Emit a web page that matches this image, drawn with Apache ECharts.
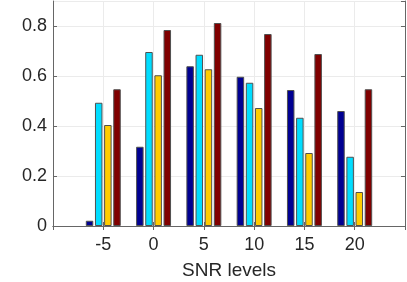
<!DOCTYPE html>
<html>
<head>
<meta charset="utf-8">
<script src="https://cdn.jsdelivr.net/npm/echarts@6/dist/echarts.min.js"></script>
<style>html,body{margin:0;padding:0;background:#fff;}#c{width:407px;height:282px;}</style>
</head>
<body>
<div id="c"></div>
<script>
var categories = ['-10', '-5', '0', '5', '10', '15', '20', '25'];
var series1 = [null, 0.021, 0.317, 0.639, 0.597, 0.544, 0.460, null];
var series2 = [null, 0.493, 0.696, 0.685, 0.573, 0.433, 0.277, null];
var series3 = [null, 0.404, 0.603, 0.627, 0.472, 0.292, 0.136, null];
var series4 = [null, 0.547, 0.784, 0.812, 0.768, 0.688, 0.547, null];
var yTicks = [0, 0.2, 0.4, 0.6, 0.8];
var colors = ['#000092', '#00DDFF', '#FFCC00', '#800000'];

var chart = echarts.init(document.getElementById('c'), null, {renderer: 'canvas'});
var axisCol = '#666666';
var txtCol = '#262626';
function mkBar(data, i) {
  return {
    type: 'bar', data: data, barWidth: 7.5, barGap: '22%',
    itemStyle: {color: colors[i], borderColor: '#505050', borderWidth: 1},
    xAxisIndex: 0, yAxisIndex: 0, animation: false
  };
}
chart.setOption({
  animation: false,
  grid: {left: 53, right: 2, top: 1, bottom: 56, containLabel: false, outerBoundsMode: 'none'},
  xAxis: [{
    type: 'category', data: categories, boundaryGap: false, position: 'bottom',
    axisLine: {show: true, lineStyle: {color: axisCol, width: 1}},
    axisTick: {show: true, inside: true, length: 4, lineStyle: {color: axisCol}},
    axisLabel: {color: txtCol, fontSize: 18, fontFamily: 'Liberation Sans, Arial', margin: 10,
      formatter: function (v) { return (v === '-10' || v === '25') ? '' : v; }},
    splitLine: {show: true, lineStyle: {color: '#ebebeb', width: 1}},
    name: 'SNR levels', nameLocation: 'middle', nameGap: 35,
    nameTextStyle: {color: txtCol, fontSize: 19, fontFamily: 'Liberation Sans, Arial'}
  }, {
    type: 'category', data: categories, boundaryGap: false, position: 'top',
    axisLine: {show: true, lineStyle: {color: axisCol, width: 1}},
    axisTick: {show: true, inside: true, length: 4, lineStyle: {color: axisCol}},
    axisLabel: {show: false}, splitLine: {show: false}
  }],
  yAxis: [{
    type: 'value', min: 0, max: 0.9, interval: 0.2, position: 'left',
    axisLine: {show: true, lineStyle: {color: axisCol, width: 1}},
    axisTick: {show: true, inside: true, length: 4, lineStyle: {color: axisCol}},
    axisLabel: {color: txtCol, fontSize: 18, fontFamily: 'Liberation Sans, Arial', margin: 6, showMaxLabel: false,
      formatter: function (v) { return yTicks.indexOf(Math.round(v * 10) / 10) >= 0 ? String(Math.round(v * 10) / 10) : ''; }},
    splitLine: {show: true, lineStyle: {color: '#ebebeb', width: 1}}
  }, {
    type: 'value', min: 0, max: 0.9, interval: 0.2, position: 'right',
    axisLine: {show: true, lineStyle: {color: axisCol, width: 1}},
    axisTick: {show: true, inside: true, length: 4, lineStyle: {color: axisCol}},
    axisLabel: {show: false}, splitLine: {show: false}
  }],
  series: [mkBar(series1, 0), mkBar(series2, 1), mkBar(series3, 2), mkBar(series4, 3)]
});
</script>
</body>
</html>
